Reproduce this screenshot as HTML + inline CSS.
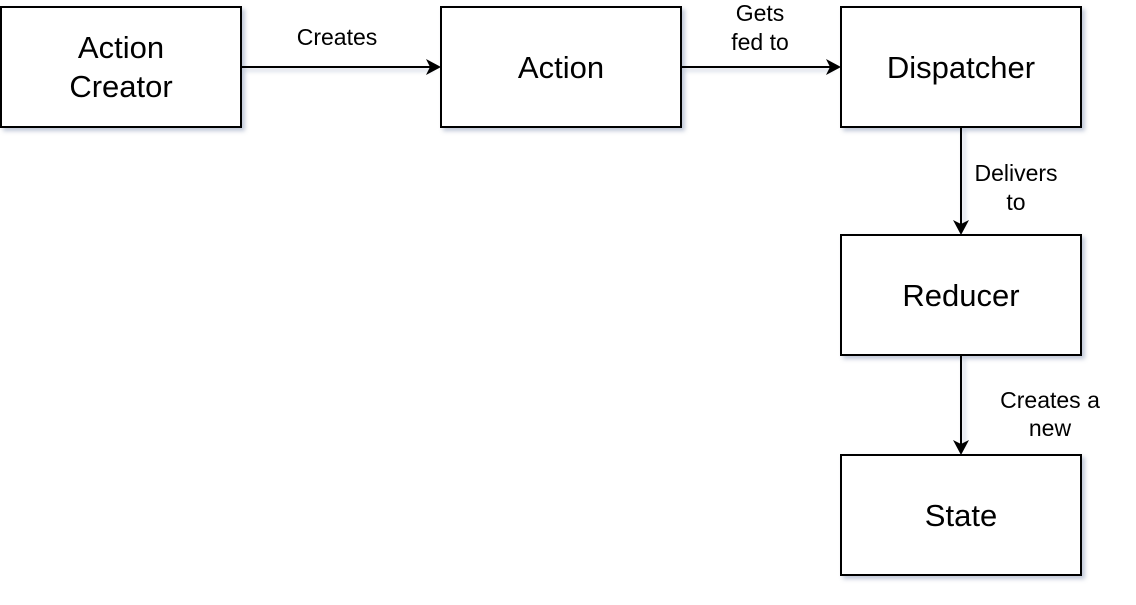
<!DOCTYPE html>
<html><head><style>
body{margin:0;width:1136px;height:600px;background:#fff;overflow:hidden}
</style></head><body>
<svg width="1136" height="600" xmlns="http://www.w3.org/2000/svg" font-family="'Liberation Sans', Arial, sans-serif">
<defs>
<filter id="sh" x="-20%" y="-20%" width="150%" height="150%">
<feGaussianBlur in="SourceAlpha" stdDeviation="2"/>
<feOffset dx="3" dy="3" result="b"/>
<feFlood flood-color="#8090b0" flood-opacity="0.5"/>
<feComposite in2="b" operator="in"/>
<feMerge><feMergeNode/><feMergeNode in="SourceGraphic"/></feMerge>
</filter>
</defs>
<g filter="url(#sh)" fill="#fff" stroke="#000" stroke-width="2">
<rect x="1" y="7" width="240" height="120"/>
<rect x="441" y="7" width="240" height="120"/>
<rect x="841" y="7" width="240" height="120"/>
<rect x="841" y="235" width="240" height="120"/>
<rect x="841" y="455" width="240" height="120"/>
<path d="M241 67H430M681 67H830M961 127V224M961 355V444" fill="none"/>
</g>
<g fill="#000">
<path d="M441 67L426 59L430 67L426 75Z"/>
<path d="M841 67L826 59L830 67L826 75Z"/>
<path d="M961 235L953 220L961 224L969 220Z"/>
<path d="M961 455L953 440L961 444L969 440Z"/>
</g>
<g font-size="31" text-anchor="middle" fill="#000">
<text x="121" y="58">Action</text>
<text x="121" y="97">Creator</text>
<text x="561" y="78">Action</text>
<text x="961" y="78">Dispatcher</text>
<text x="961" y="306">Reducer</text>
<text x="961" y="526">State</text>
</g>
<g font-size="23" text-anchor="middle" fill="#000">
<text x="337" y="45">Creates</text>
<text x="760" y="21">Gets</text>
<text x="760" y="50">fed to</text>
<text x="1016" y="181">Delivers</text>
<text x="1016" y="210">to</text>
<text x="1050" y="408">Creates a</text>
<text x="1050" y="436">new</text>
</g>
</svg>
</body></html>
